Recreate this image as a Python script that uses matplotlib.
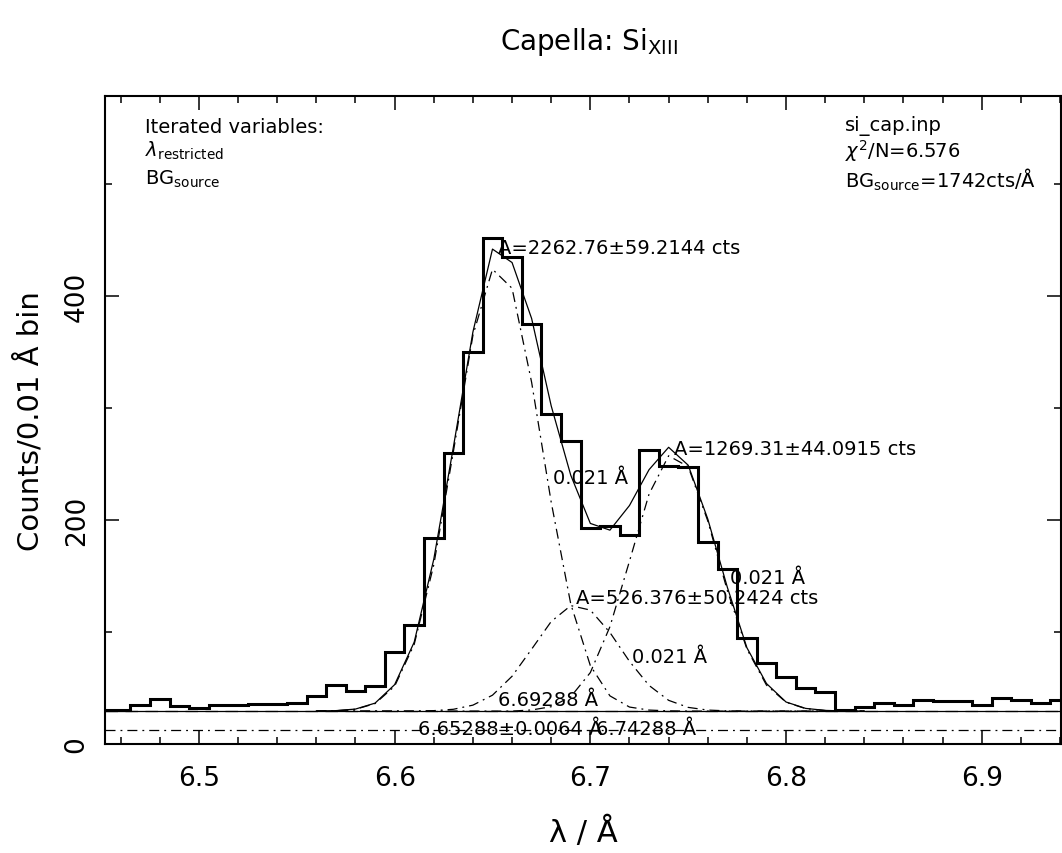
import matplotlib
matplotlib.use("Agg")
import matplotlib.pyplot as plt
import numpy as np

# observed spectrum, counts per 0.01 A bin (bin centres 6.45 ... 6.94)
wave = np.round(np.arange(6.45, 6.945, 0.01), 2)
counts = [30, 30, 35, 40, 34, 32, 35, 35, 36, 36,
          37, 43, 53, 47, 52, 82, 106, 184, 260, 350,
          452, 435, 375, 295, 271, 193, 195, 187, 263, 248,
          247, 180, 156, 95, 72, 60, 50, 46, 30, 33,
          37, 35, 39, 38, 38, 35, 41, 39, 37, 39]

# fitted model sampled on 6.56 ... 6.84
model_wave = np.round(np.arange(6.56, 6.845, 0.01), 2)
total_model = [29.5, 29.8, 31.2, 36.5, 53, 91, 165, 265, 368, 442,
               430, 380, 302, 240, 197, 191, 213, 245, 265, 249,
               201, 140, 86, 54, 37.5, 31.8, 30, 29.5, 29.4]
line1 = [29.4, 29.7, 31.0, 36.1, 51.6, 89, 160, 261, 365, 424,
         407, 323, 216, 125, 70, 43, 33, 30.3, 29.6, 29.4,
         29.4, 29.4, 29.4, 29.4, 29.4, 29.4, 29.4, 29.4, 29.4]
line2 = [29.4, 29.4, 29.4, 29.4, 29.4, 29.4, 29.8, 31, 34.7, 43.6,
         60.5, 84.7, 109.4, 123.6, 119.6, 99.6, 73.8, 52.3, 39, 32.7,
         30.3, 29.6, 29.4, 29.4, 29.4, 29.4, 29.4, 29.4, 29.4]
line3 = [29.4, 29.4, 29.4, 29.4, 29.4, 29.4, 29.4, 29.4, 29.4, 29.4,
         29.4, 30.4, 33.3, 42.2, 63.8, 104.7, 163.3, 223.2, 257.4, 247.7,
         199.3, 137, 84.8, 52.6, 37.3, 31.6, 29.9, 29.5, 29.4]

bg_total = 29.4
bg_instr = 12.3

# annotation texts: (x, y, text)
amp_labels = [(6.6529, 443, "A=2262.76\u00b159.2144 cts"),
              (6.6929, 131, "A=526.376\u00b150.2424 cts"),
              (6.7429, 264, "A=1269.31\u00b144.0915 cts")]
width_labels = [(6.6810, 238, "0.021 \u00c5"),
                (6.7211, 78, "0.021 \u00c5"),
                (6.7713, 149, "0.021 \u00c5")]
center_labels = [(6.6591, 13.4, "6.65288\u00b10.0064 \u00c5"),
                 (6.6783, 40, "6.69288 \u00c5"),
                 (6.7282, 13.4, "6.74288 \u00c5")]

plt.rcParams["font.family"] = ["DejaVu Sans"]

fig = plt.figure(figsize=(10.62, 8.54), dpi=100)
ax = fig.add_axes([105 / 1062, 1 - 745 / 854, 956 / 1062, 648.3 / 854])

edges = np.round(np.append(wave - 0.005, wave[-1] + 0.005), 3)
ax.stairs(counts, edges, baseline=None, color="black", lw=2.2)

ax.axhline(bg_total, color="black", lw=0.9)
ax.axhline(bg_total + 0.4, color="black", lw=0.9, ls=(0, (10, 6)))
ax.axhline(bg_instr, color="black", lw=0.9, ls=(0, (8, 4, 1.5, 4)))

ax.plot(model_wave, total_model, color="black", lw=0.9)
for comp in (line1, line2, line3):
    ax.plot(model_wave, comp, color="black", lw=0.9, ls=(0, (8, 4, 1.5, 4)))

for x, y, s in amp_labels:
    ax.text(x, y, s, fontsize=14, ha="left", va="center")
for x, y, s in width_labels:
    ax.text(x, y, s, fontsize=14, ha="left", va="center")
for x, y, s in center_labels:
    ax.text(x, y, s, fontsize=14, ha="center", va="center")

ax.set_xlim(6.452, 6.9405)
ax.set_ylim(0, 579)
ax.set_xticks([6.5, 6.6, 6.7, 6.8, 6.9])
ax.set_xticks(np.round(np.arange(6.46, 6.941, 0.02), 2), minor=True)
ax.set_yticks([0, 200, 400])
ax.set_yticks([100, 300, 500], minor=True)
ax.tick_params(which="both", direction="in", top=True, right=True, width=1.1, labelsize=19)
ax.tick_params(which="major", length=10)
ax.tick_params(which="minor", length=5)
ax.tick_params(axis="x", pad=15)
ax.tick_params(axis="y", pad=11)
for lab in ax.get_yticklabels():
    lab.set_rotation(90)
    lab.set_va("center")
for sp in ax.spines.values():
    sp.set_linewidth(1.5)

ax.set_xlabel("\u03bb / \u00c5", fontsize=22)
ax.xaxis.set_label_coords(0.5, -(832 - 745) / 648.3)
ax.xaxis.label.set_va("center")
ax.set_ylabel("Counts/0.01 \u00c5 bin", fontsize=21)
ax.yaxis.set_label_coords(-(105 - 30) / 956, 0.5)
ax.yaxis.label.set_va("center")

ax.text(0.042, 0.953, "Iterated variables:", transform=ax.transAxes, fontsize=14, va="center")
ax.text(0.042, 0.916, r"$\lambda_{\rm restricted}$", transform=ax.transAxes, fontsize=14, va="center")
ax.text(0.042, 0.873, r"BG$_{\rm source}$", transform=ax.transAxes, fontsize=14, va="center")

ax.text(0.774, 0.955, "si_cap.inp", transform=ax.transAxes, fontsize=14, va="center")
ax.text(0.774, 0.916, r"$\chi^2$/N=6.576", transform=ax.transAxes, fontsize=14, va="center")
ax.text(0.774, 0.872, "BG$_{\\rm source}$=1742cts/\u00c5", transform=ax.transAxes, fontsize=14, va="center")

fig.text(589 / 1062, 1 - 42 / 854, r"Capella: Si$_{\rm XIII}$", fontsize=20, ha="center", va="center")

fig.savefig("out.png", dpi=100)
